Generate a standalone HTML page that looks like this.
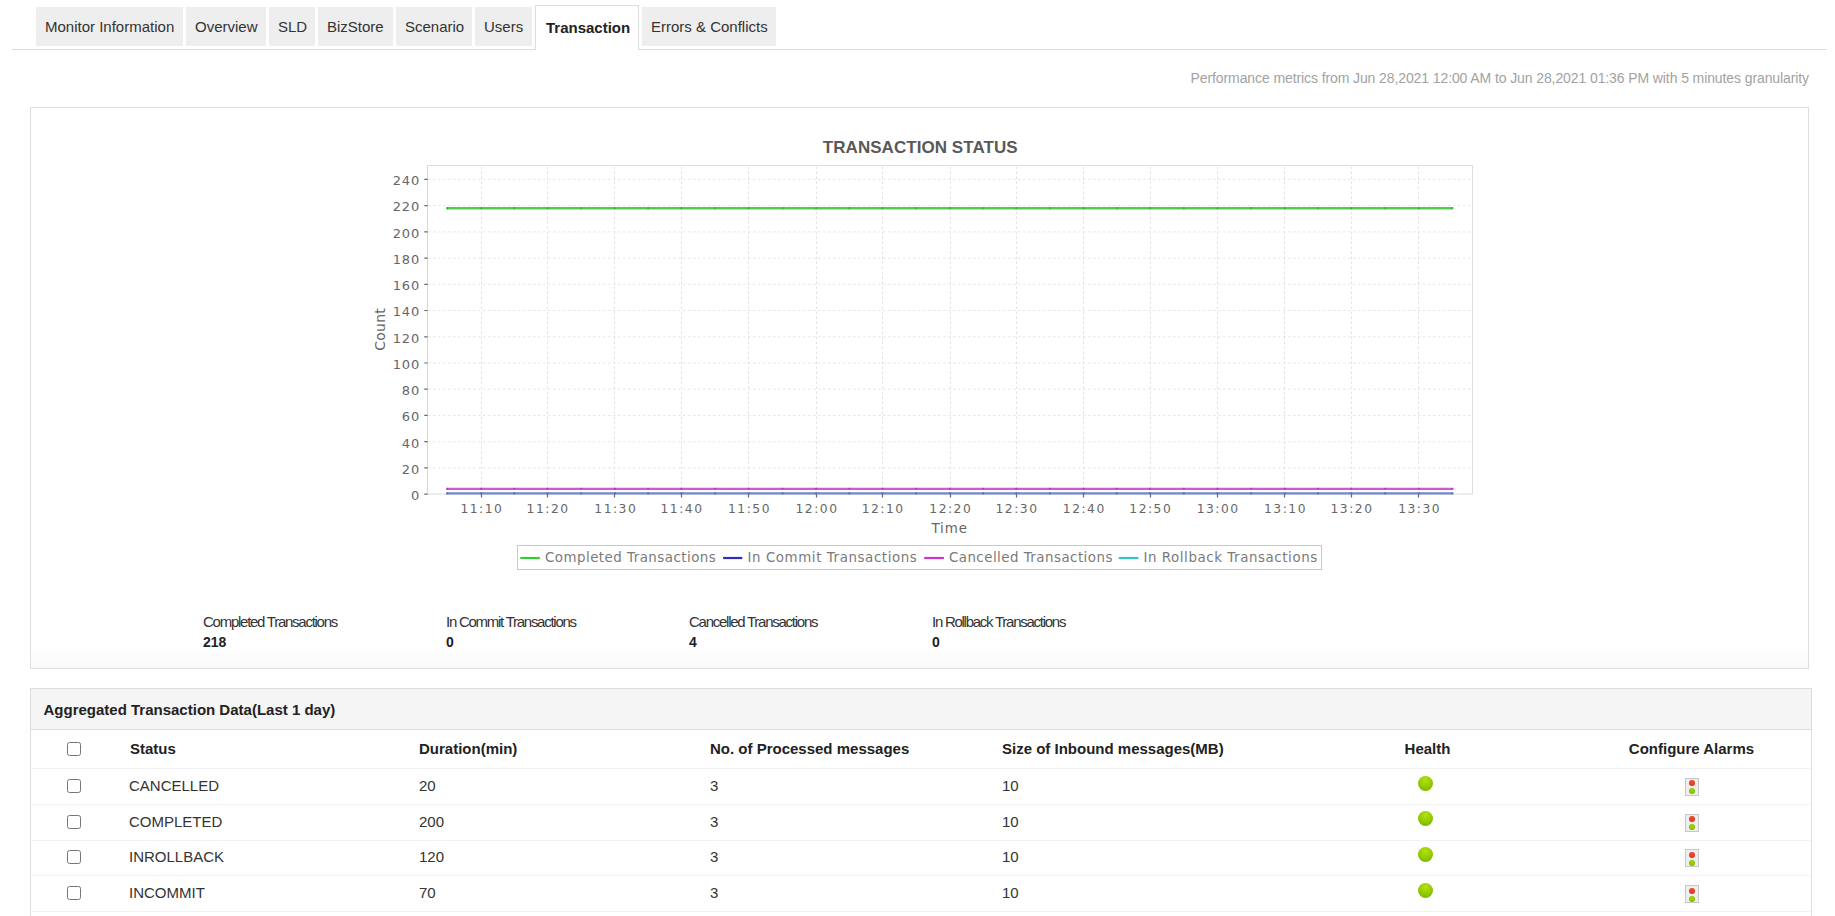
<!DOCTYPE html>
<html>
<head>
<meta charset="utf-8">
<title>Transaction</title>
<style>
html,body{margin:0;padding:0;background:#fff;}
body{width:1835px;height:916px;overflow:hidden;position:relative;font-family:"Liberation Sans",Arial,sans-serif;color:#333;}
.tabs{position:absolute;left:12px;top:0;width:1815px;height:50px;border-bottom:1px solid #ddd;box-sizing:border-box;margin:0;padding:0 0 0 24px;list-style:none;}
.tabs li{float:left;box-sizing:border-box;margin:7px 3px 0 0;height:39px;line-height:39px;padding:0 9px;background:#eee;font-size:15px;color:#333;white-space:nowrap;}
.tabs li.active{margin-top:5px;height:45px;line-height:43px;background:#fff;border:1px solid #ddd;border-bottom:0;font-weight:bold;color:#222;padding-left:10px;}
.perf{position:absolute;right:26px;top:69px;font-size:14px;color:#a2a2a2;letter-spacing:-0.1px;white-space:nowrap;line-height:18px;}
.chartbox{position:absolute;left:30px;top:107px;width:1779px;height:562px;box-sizing:border-box;border:1px solid #ddd;background:linear-gradient(#fff 0,#fff 538px,#f9f9f9 561px);}
.chart{position:absolute;left:330px;top:18px;}
.stats{position:absolute;top:504px;left:172px;}
.stat{position:absolute;top:0;width:240px;font-size:15px;letter-spacing:-1.26px;color:#333;line-height:20px;white-space:nowrap;}
.stat b{display:block;letter-spacing:0;font-size:14px;color:#222;}
.tblbox{position:absolute;left:30px;top:688px;width:1782px;height:260px;box-sizing:border-box;border:1px solid #ddd;}
.tblhead{height:41px;background:#f5f5f5;border-bottom:1px solid #ddd;box-sizing:border-box;font-weight:bold;font-size:15px;color:#222;padding-left:12.5px;line-height:42px;}
table{border-collapse:collapse;table-layout:fixed;width:1780px;font-size:15px;color:#333;}
th{font-weight:bold;text-align:left;height:36px;padding:0 8px 2px;color:#222;border-bottom:1px solid #f2f2f2;}
td{height:32.75px;padding:0 8px 2px;border-bottom:1px solid #f2f2f2;}
td.s{padding-left:7px;}
.c{text-align:center;}
input[type=checkbox]{margin:0;width:14px;height:14px;vertical-align:middle;position:relative;left:28px;top:-1px;}
.dot{display:inline-block;width:15px;height:15px;border-radius:50%;position:relative;left:-2.2px;top:-3.5px;background:radial-gradient(circle at 50% 28%,#b2e21a 0,#9cd000 38%,#84c000 70%,#6cab00 100%);vertical-align:middle;}
.alarm{display:inline-block;width:12px;height:16px;border:1px solid #c8c8c8;background:#eee;position:relative;top:1px;vertical-align:middle;}
.alarm:before,.alarm:after{content:"";position:absolute;left:3px;width:6px;height:6px;border-radius:50%;}
.alarm:before{top:1.6px;background:radial-gradient(circle at 50% 35%,#f05030,#d82a18);}
.alarm:after{top:9.4px;background:radial-gradient(circle at 50% 35%,#a8d800,#70b000);}
</style>
</head>
<body>
<ul class="tabs">
<li style="width:147px">Monitor Information</li>
<li style="width:80px">Overview</li>
<li style="width:46px">SLD</li>
<li style="width:75px">BizStore</li>
<li style="width:76px">Scenario</li>
<li style="width:57px">Users</li>
<li class="active" style="width:104px">Transaction</li>
<li style="width:134px">Errors &amp; Conflicts</li>
</ul>
<div class="perf">Performance metrics from Jun 28,2021 12:00 AM to Jun 28,2021 01:36 PM with 5 minutes granularity</div>
<div class="chartbox">
<!--CHART-->
<svg class="chart" width="1130" height="455" viewBox="360 125 1130 455" style="position:absolute;left:329px;top:17px">
<text x="822.8" y="152.6" font-family="Liberation Sans, Arial, sans-serif" font-weight="bold" font-size="17" fill="#595959" letter-spacing="0.05">TRANSACTION STATUS</text>
<rect x="427.5" y="165.5" width="1045.0" height="328.5" fill="#fff" stroke="#ddd" stroke-width="1"/>
<path d="M428.0 494.1H1472.0 M428.0 467.9H1472.0 M428.0 441.7H1472.0 M428.0 415.4H1472.0 M428.0 389.2H1472.0 M428.0 363.0H1472.0 M428.0 336.8H1472.0 M428.0 310.5H1472.0 M428.0 284.3H1472.0 M428.0 258.1H1472.0 M428.0 231.9H1472.0 M428.0 205.6H1472.0 M428.0 179.4H1472.0" stroke="#e6e6e6" stroke-width="1" stroke-dasharray="2.5 2.5" fill="none"/>
<path d="M481.5 166.5V494.0 M547.5 166.5V494.0 M614.5 166.5V494.0 M681.5 166.5V494.0 M748.5 166.5V494.0 M816.5 166.5V494.0 M882.5 166.5V494.0 M950.5 166.5V494.0 M1016.5 166.5V494.0 M1083.5 166.5V494.0 M1150.5 166.5V494.0 M1217.5 166.5V494.0 M1284.5 166.5V494.0 M1351.5 166.5V494.0 M1418.5 166.5V494.0" stroke="#e2e2e2" stroke-width="1" stroke-dasharray="2.5 2.5" fill="none"/>
<path d="M427.5 165.5V494.0" stroke="#d8d8d8" stroke-width="1"/>
<path d="M424.3 494.1H427.5 M424.3 467.9H427.5 M424.3 441.7H427.5 M424.3 415.4H427.5 M424.3 389.2H427.5 M424.3 363.0H427.5 M424.3 336.8H427.5 M424.3 310.5H427.5 M424.3 284.3H427.5 M424.3 258.1H427.5 M424.3 231.9H427.5 M424.3 205.6H427.5 M424.3 179.4H427.5" stroke="#666" stroke-width="1.2"/>
<path d="M481.5 494.0V497.6 M547.5 494.0V497.6 M614.5 494.0V497.6 M681.5 494.0V497.6 M748.5 494.0V497.6 M816.5 494.0V497.6 M882.5 494.0V497.6 M950.5 494.0V497.6 M1016.5 494.0V497.6 M1083.5 494.0V497.6 M1150.5 494.0V497.6 M1217.5 494.0V497.6 M1284.5 494.0V497.6 M1351.5 494.0V497.6 M1418.5 494.0V497.6" stroke="#666" stroke-width="1.2"/>
<g font-family="DejaVu Sans, sans-serif" font-size="13" fill="#666" letter-spacing="0.9"><text x="420.2" y="499.9" text-anchor="end">0</text><text x="420.2" y="473.7" text-anchor="end">20</text><text x="420.2" y="447.5" text-anchor="end">40</text><text x="420.2" y="421.2" text-anchor="end">60</text><text x="420.2" y="395.0" text-anchor="end">80</text><text x="420.2" y="368.8" text-anchor="end">100</text><text x="420.2" y="342.6" text-anchor="end">120</text><text x="420.2" y="316.3" text-anchor="end">140</text><text x="420.2" y="290.1" text-anchor="end">160</text><text x="420.2" y="263.9" text-anchor="end">180</text><text x="420.2" y="237.7" text-anchor="end">200</text><text x="420.2" y="211.4" text-anchor="end">220</text><text x="420.2" y="185.2" text-anchor="end">240</text></g>
<g font-family="DejaVu Sans, sans-serif" font-size="12.3" fill="#666" letter-spacing="1.5"><text x="481.9" y="512.9" text-anchor="middle">11:10</text><text x="548.1" y="512.9" text-anchor="middle">11:20</text><text x="615.8" y="512.9" text-anchor="middle">11:30</text><text x="682.0" y="512.9" text-anchor="middle">11:40</text><text x="749.5" y="512.9" text-anchor="middle">11:50</text><text x="817.0" y="512.9" text-anchor="middle">12:00</text><text x="883.2" y="512.9" text-anchor="middle">12:10</text><text x="950.8" y="512.9" text-anchor="middle">12:20</text><text x="1017.0" y="512.9" text-anchor="middle">12:30</text><text x="1084.3" y="512.9" text-anchor="middle">12:40</text><text x="1150.8" y="512.9" text-anchor="middle">12:50</text><text x="1218.2" y="512.9" text-anchor="middle">13:00</text><text x="1285.5" y="512.9" text-anchor="middle">13:10</text><text x="1352.0" y="512.9" text-anchor="middle">13:20</text><text x="1419.7" y="512.9" text-anchor="middle">13:30</text></g>
<text x="949.6" y="532.6" text-anchor="middle" font-family="DejaVu Sans, sans-serif" font-size="13.4" fill="#666" letter-spacing="0.9">Time</text>
<text transform="translate(384.6 329.4) rotate(-90)" text-anchor="middle" font-family="DejaVu Sans, sans-serif" font-size="14" fill="#666" letter-spacing="0.2">Count</text>
<path d="M446.6 208.2H1452.4" stroke="#52cb52" stroke-width="2.4" fill="none"/><g fill="#38b838"><circle cx="447.3" cy="208.2" r="1.15"/><circle cx="481.2" cy="208.2" r="1.15"/><circle cx="514.3" cy="208.2" r="1.15"/><circle cx="547.4" cy="208.2" r="1.15"/><circle cx="581.2" cy="208.2" r="1.15"/><circle cx="615.0" cy="208.2" r="1.15"/><circle cx="648.1" cy="208.2" r="1.15"/><circle cx="681.3" cy="208.2" r="1.15"/><circle cx="715.0" cy="208.2" r="1.15"/><circle cx="748.7" cy="208.2" r="1.15"/><circle cx="782.5" cy="208.2" r="1.15"/><circle cx="816.2" cy="208.2" r="1.15"/><circle cx="849.4" cy="208.2" r="1.15"/><circle cx="882.5" cy="208.2" r="1.15"/><circle cx="916.2" cy="208.2" r="1.15"/><circle cx="950.0" cy="208.2" r="1.15"/><circle cx="983.1" cy="208.2" r="1.15"/><circle cx="1016.3" cy="208.2" r="1.15"/><circle cx="1049.9" cy="208.2" r="1.15"/><circle cx="1083.6" cy="208.2" r="1.15"/><circle cx="1116.8" cy="208.2" r="1.15"/><circle cx="1150.1" cy="208.2" r="1.15"/><circle cx="1183.8" cy="208.2" r="1.15"/><circle cx="1217.4" cy="208.2" r="1.15"/><circle cx="1251.1" cy="208.2" r="1.15"/><circle cx="1284.8" cy="208.2" r="1.15"/><circle cx="1318.0" cy="208.2" r="1.15"/><circle cx="1351.2" cy="208.2" r="1.15"/><circle cx="1385.1" cy="208.2" r="1.15"/><circle cx="1418.9" cy="208.2" r="1.15"/><circle cx="1452.4" cy="208.2" r="1.15"/></g>
<path d="M446.6 488.9H1452.4" stroke="#cf5acf" stroke-width="2.4" fill="none"/><g fill="#bb38bb"><circle cx="447.3" cy="488.9" r="1.15"/><circle cx="481.2" cy="488.9" r="1.15"/><circle cx="514.3" cy="488.9" r="1.15"/><circle cx="547.4" cy="488.9" r="1.15"/><circle cx="581.2" cy="488.9" r="1.15"/><circle cx="615.0" cy="488.9" r="1.15"/><circle cx="648.1" cy="488.9" r="1.15"/><circle cx="681.3" cy="488.9" r="1.15"/><circle cx="715.0" cy="488.9" r="1.15"/><circle cx="748.7" cy="488.9" r="1.15"/><circle cx="782.5" cy="488.9" r="1.15"/><circle cx="816.2" cy="488.9" r="1.15"/><circle cx="849.4" cy="488.9" r="1.15"/><circle cx="882.5" cy="488.9" r="1.15"/><circle cx="916.2" cy="488.9" r="1.15"/><circle cx="950.0" cy="488.9" r="1.15"/><circle cx="983.1" cy="488.9" r="1.15"/><circle cx="1016.3" cy="488.9" r="1.15"/><circle cx="1049.9" cy="488.9" r="1.15"/><circle cx="1083.6" cy="488.9" r="1.15"/><circle cx="1116.8" cy="488.9" r="1.15"/><circle cx="1150.1" cy="488.9" r="1.15"/><circle cx="1183.8" cy="488.9" r="1.15"/><circle cx="1217.4" cy="488.9" r="1.15"/><circle cx="1251.1" cy="488.9" r="1.15"/><circle cx="1284.8" cy="488.9" r="1.15"/><circle cx="1318.0" cy="488.9" r="1.15"/><circle cx="1351.2" cy="488.9" r="1.15"/><circle cx="1385.1" cy="488.9" r="1.15"/><circle cx="1418.9" cy="488.9" r="1.15"/><circle cx="1452.4" cy="488.9" r="1.15"/></g>
<path d="M446.6 493.4H1452.4" stroke="#7289c9" stroke-width="2.4" fill="none"/><g fill="#5a6fc0"><circle cx="447.3" cy="493.4" r="1.15"/><circle cx="481.2" cy="493.4" r="1.15"/><circle cx="514.3" cy="493.4" r="1.15"/><circle cx="547.4" cy="493.4" r="1.15"/><circle cx="581.2" cy="493.4" r="1.15"/><circle cx="615.0" cy="493.4" r="1.15"/><circle cx="648.1" cy="493.4" r="1.15"/><circle cx="681.3" cy="493.4" r="1.15"/><circle cx="715.0" cy="493.4" r="1.15"/><circle cx="748.7" cy="493.4" r="1.15"/><circle cx="782.5" cy="493.4" r="1.15"/><circle cx="816.2" cy="493.4" r="1.15"/><circle cx="849.4" cy="493.4" r="1.15"/><circle cx="882.5" cy="493.4" r="1.15"/><circle cx="916.2" cy="493.4" r="1.15"/><circle cx="950.0" cy="493.4" r="1.15"/><circle cx="983.1" cy="493.4" r="1.15"/><circle cx="1016.3" cy="493.4" r="1.15"/><circle cx="1049.9" cy="493.4" r="1.15"/><circle cx="1083.6" cy="493.4" r="1.15"/><circle cx="1116.8" cy="493.4" r="1.15"/><circle cx="1150.1" cy="493.4" r="1.15"/><circle cx="1183.8" cy="493.4" r="1.15"/><circle cx="1217.4" cy="493.4" r="1.15"/><circle cx="1251.1" cy="493.4" r="1.15"/><circle cx="1284.8" cy="493.4" r="1.15"/><circle cx="1318.0" cy="493.4" r="1.15"/><circle cx="1351.2" cy="493.4" r="1.15"/><circle cx="1385.1" cy="493.4" r="1.15"/><circle cx="1418.9" cy="493.4" r="1.15"/><circle cx="1452.4" cy="493.4" r="1.15"/></g>
<rect x="517.5" y="545.5" width="804" height="24" fill="#fff" stroke="#c8c8c8" stroke-width="1"/>
<path d="M520.3 558H539.8" stroke="#33cc33" stroke-width="2.2"/>
<text x="545.0" y="562" font-family="DejaVu Sans, sans-serif" font-size="13.4" fill="#7a7a7a" textLength="170.8" lengthAdjust="spacing">Completed Transactions</text>
<path d="M723.1 558H742.3" stroke="#2c2cc0" stroke-width="2.2"/>
<text x="747.5" y="562" font-family="DejaVu Sans, sans-serif" font-size="13.4" fill="#7a7a7a" textLength="169.3" lengthAdjust="spacing">In Commit Transactions</text>
<path d="M924.2 558H943.9" stroke="#cc33cc" stroke-width="2.2"/>
<text x="948.9" y="562" font-family="DejaVu Sans, sans-serif" font-size="13.4" fill="#7a7a7a" textLength="163.5" lengthAdjust="spacing">Cancelled Transactions</text>
<path d="M1118.7 558H1138.4" stroke="#33c4c4" stroke-width="2.2"/>
<text x="1143.4" y="562" font-family="DejaVu Sans, sans-serif" font-size="13.4" fill="#7a7a7a" textLength="173.8" lengthAdjust="spacing">In Rollback Transactions</text>
</svg>
<!--/CHART-->
<div class="stats">
<div class="stat" style="left:0">Completed Transactions<b>218</b></div>
<div class="stat" style="left:243px">In Commit Transactions<b>0</b></div>
<div class="stat" style="left:486px">Cancelled Transactions<b>4</b></div>
<div class="stat" style="left:729px">In Rollback Transactions<b>0</b></div>
</div>
</div>
<div class="tblbox">
<div class="tblhead">Aggregated Transaction Data(Last 1 day)</div>
<table>
<colgroup><col style="width:91px"><col style="width:289px"><col style="width:291px"><col style="width:292px"><col style="width:289px"><col style="width:289px"><col></colgroup>
<tr><th><input type="checkbox"></th><th>Status</th><th>Duration(min)</th><th>No. of Processed messages</th><th>Size of Inbound messages(MB)</th><th class="c">Health</th><th class="c">Configure Alarms</th></tr>
<tr><td><input type="checkbox"></td><td class="s">CANCELLED</td><td>20</td><td>3</td><td>10</td><td class="c"><span class="dot"></span></td><td class="c"><span class="alarm"></span></td></tr>
<tr><td><input type="checkbox"></td><td class="s">COMPLETED</td><td>200</td><td>3</td><td>10</td><td class="c"><span class="dot"></span></td><td class="c"><span class="alarm"></span></td></tr>
<tr><td><input type="checkbox"></td><td class="s">INROLLBACK</td><td>120</td><td>3</td><td>10</td><td class="c"><span class="dot"></span></td><td class="c"><span class="alarm"></span></td></tr>
<tr><td><input type="checkbox"></td><td class="s">INCOMMIT</td><td>70</td><td>3</td><td>10</td><td class="c"><span class="dot"></span></td><td class="c"><span class="alarm"></span></td></tr>
</table>
</div>
</body>
</html>
